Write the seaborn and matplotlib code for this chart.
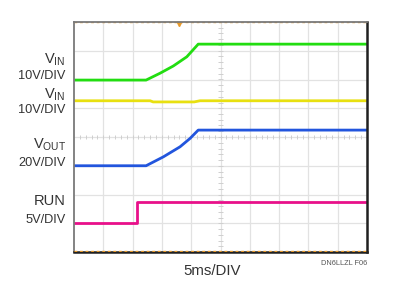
import numpy as np
import pandas as pd
import matplotlib
matplotlib.use("Agg")
import matplotlib.pyplot as plt
import seaborn as sns
from matplotlib import font_manager

# scope traces, in divisions (10 x 8 grid)
vin1_t = [0.0, 2.46, 2.94, 3.39, 3.85, 4.24, 10.0]
vin1_v = [5.98, 5.98, 6.22, 6.47, 6.79, 7.23, 7.23]

vin2_t = [0.0, 2.6, 2.7, 4.1, 4.3, 10.0]
vin2_v = [5.26, 5.26, 5.22, 5.22, 5.26, 5.26]

vout_t = [0.0, 2.46, 3.05, 3.62, 3.96, 4.24, 10.0]
vout_v = [3.00, 3.00, 3.31, 3.66, 3.95, 4.24, 4.24]

run_t = [0.0, 2.14, 2.14, 10.0]
run_v = [1.00, 1.00, 1.74, 1.74]

trigger_t = 3.58

# channel labels: name, scale, baseline of name, baseline of scale (divisions)
label_names = [r"V$_{\mathregular{IN}}$", r"V$_{\mathregular{IN}}$", r"V$_{\mathregular{OUT}}$", "RUN"]
label_scales = ["10V/DIV", "10V/DIV", "20V/DIV", "5V/DIV"]
name_y = [6.57, 5.36, 3.62, 1.63]
scale_y = [6.02, 4.83, 2.99, 1.01]
x_label = "5ms/DIV"
fig_id = "DN6LLZL F06"

traces = [
    (vin1_t, vin1_v, "#22dd11"),
    (vin2_t, vin2_v, "#e8e010"),
    (vout_t, vout_v, "#2255dd"),
    (run_t, run_v, "#e8108a"),
]

sns.set_style("white")
names = {f.name for f in font_manager.fontManager.ttflist}
narrow = "Liberation Sans Narrow" in names
plt.rcParams["font.family"] = ["Liberation Sans Narrow" if narrow else "Liberation Sans", "DejaVu Sans"]
plt.rcParams["mathtext.fontset"] = "custom"
plt.rcParams["mathtext.rm"] = plt.rcParams["font.family"][0]
fs = 10.5 if narrow else 9.2

fig = plt.figure(figsize=(3.97, 2.87), dpi=100)
ax = fig.add_axes([74 / 397, 35 / 287, 293 / 397, 230 / 287])
ax.set_xlim(0, 10)
ax.set_ylim(0, 8)

# graticule
for gx in range(1, 10):
    ax.axvline(gx, color="#e2e2e2", lw=0.9, zorder=0)
for gy in range(1, 8):
    ax.axhline(gy, color="#e2e2e2", lw=0.9, zorder=0)
minor_x = np.arange(0.2, 10, 0.2)
minor_y = np.arange(0.2, 8, 0.2)
ax.vlines(minor_x, 3.93, 4.07, color="#cfcfcf", lw=0.7, zorder=0)
ax.hlines(minor_y, 4.93, 5.07, color="#cfcfcf", lw=0.7, zorder=0)

# ground / reference markers
ax.axhline(7.985, color="#e89a2a", lw=1.0, ls=(0, (2, 2)), zorder=1)
ax.axhline(0.02, color="#e89a2a", lw=1.0, ls=(0, (2, 2)), zorder=3)
ax.plot([trigger_t], [7.93], marker="v", color="#e89a2a", ms=3.0, clip_on=False)

for t, v, c in traces:
    df = pd.DataFrame({"t": t, "v": v})
    sns.lineplot(data=df, x="t", y="v", color=c, lw=2.0, ax=ax,
                 sort=False, estimator=None, zorder=2)

ax.set_xticks([])
ax.set_yticks([])
ax.set_xlabel("")
ax.set_ylabel("")
for side in ["left", "top"]:
    ax.spines[side].set_color("#7a7a7a")
    ax.spines[side].set_linewidth(1.3)
for side in ["right", "bottom"]:
    ax.spines[side].set_color("#202020")
    ax.spines[side].set_linewidth(1.8)

for name, scale, ny, sy in zip(label_names, label_scales, name_y, scale_y):
    ax.text(-0.28, ny, name, ha="right", va="baseline", fontsize=fs + 1.3,
            color="#333333")
    ax.text(-0.28, sy, scale, ha="right", va="baseline", fontsize=fs,
            color="#333333")

fig.text(212 / 397, 1 - 275 / 287, x_label, ha="center", va="baseline",
         fontsize=fs + 1.6, color="#333333")
fig.text(367 / 397, 1 - 265 / 287, fig_id, ha="right", va="baseline",
         fontsize=5.3, color="#555555")

fig.savefig("out.png", dpi=100)
